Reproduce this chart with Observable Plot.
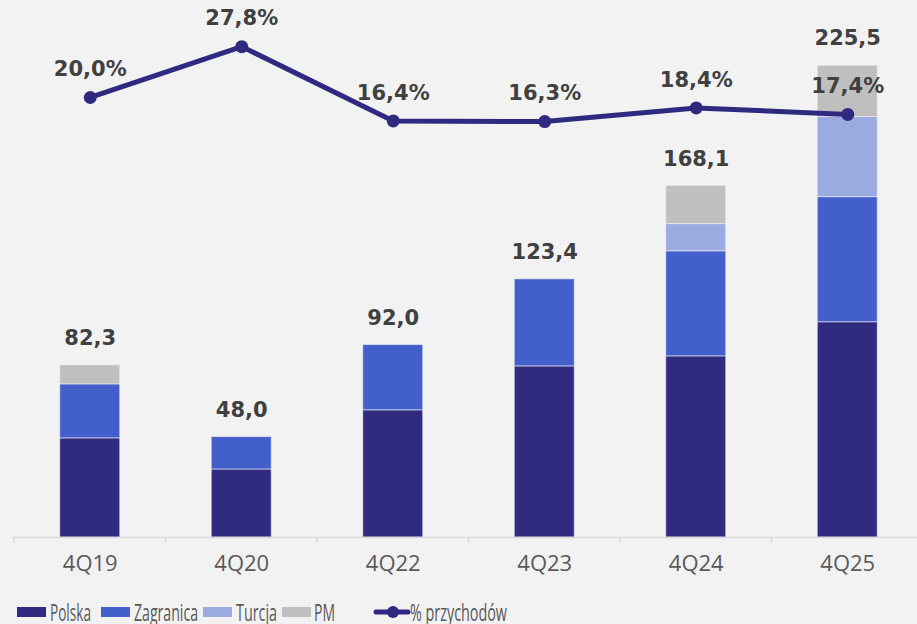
<!DOCTYPE html>
<html><head><meta charset="utf-8">
<script src="https://cdn.jsdelivr.net/npm/d3@7"></script>
<script src="https://cdn.jsdelivr.net/npm/@observablehq/plot@0.6"></script>
<style>
body{margin:0;background:#f2f2f2;width:917px;height:624px;overflow:hidden;position:relative}
#chart{position:absolute;left:0;top:0}
#legend{position:absolute;left:0;top:590px}
</style></head><body><div id="chart"></div><div id="legend"></div><script>
const categories = ["4Q19","4Q20","4Q22","4Q23","4Q24","4Q25"];
const polska = [47.4, 32.5, 60.8, 81.8, 86.6, 102.9];
const zagranica = [25.8, 15.5, 31.2, 41.6, 50.2, 59.8];
const turcja = [0, 0, 0, 0, 13.0, 38.3];
const pm = [9.1, 0, 0, 0, 18.3, 24.5];
const totals = [82.3, 48.0, 92.0, 123.4, 168.1, 225.5];
const pctRevenue = [20.0, 27.8, 16.4, 16.3, 18.4, 17.4];
const seriesNames = ["Polska", "Zagranica", "Turcja", "PM"];
const seriesColors = ["#302b80", "#435fcc", "#9baae0", "#bfbfbf"];
const lineName = "% przychodów";
const lineColor = "#2f2a7f";

const seriesArrays = [polska, zagranica, turcja, pm];
const rows = [];
categories.forEach((c, i) => {
  seriesArrays.forEach((arr, j) => {
    if (arr[i] > 0) rows.push({cat: c, series: seriesNames[j], value: arr[i]});
  });
});
// secondary axis for the percentage line (mapped into the bar scale)
const pctToY = d3.scaleLinear().domain([0, 30]).range([148.0, 241.5]);
const lineData = categories.map((c, i) => ({cat: c, pct: pctRevenue[i], y: pctToY(pctRevenue[i])}));
const totalData = categories.map((c, i) => ({cat: c, total: totals[i]}));
const fmt = v => d3.format(".1f")(v).replace(".", ",");

const labelStyle = {fontFamily: "DejaVu Sans", fontWeight: "bold", fontSize: 21, fill: "#404040"};

const plot = Plot.plot({
  width: 917, height: 590,
  marginLeft: 14, marginRight: -6, marginTop: 14, marginBottom: 53,
  style: {background: "#f2f2f2", fontFamily: "Open Sans"},
  x: {domain: categories, paddingInner: 0.604, paddingOuter: 0.302, round: false, axis: null, label: null},
  y: {domain: [0, 250], axis: null},
  color: {domain: seriesNames, range: seriesColors},
  marks: [
    Plot.barY(rows, {x: "cat", y: "value", fill: "series", stroke: "#f2f2f2", strokeOpacity: 0.6, strokeWidth: 1}),
    Plot.ruleY([0], {stroke: "#d9d9d9", strokeWidth: 1.5}),
    Plot.text(totalData, {x: "cat", y: "total", text: d => fmt(d.total), dy: -27, ...labelStyle}),
    Plot.line(lineData, {x: "cat", y: "y", stroke: lineColor, strokeWidth: 5}),
    Plot.dot(lineData, {x: "cat", y: "y", r: 6.5, fill: lineColor}),
    Plot.text(lineData, {x: "cat", y: "y", text: d => fmt(d.pct) + "%", dy: -28, ...labelStyle}),
    Plot.axisX({tickSize: 0, tickPadding: 18, fontSize: 22, fill: "#595959", fontFamily: "Open Sans", label: null})
  ]
});

// category boundary ticks below the axis line
const xs = plot.scale("x");
const half = (xs.step - xs.bandwidth) / 2;
const bounds = categories.map(c => xs.apply(c) - half);
bounds.push(xs.apply(categories[categories.length - 1]) + xs.bandwidth + half);
const y0 = plot.scale("y").apply(0);
d3.select(plot).append("g").selectAll("line").data(bounds).join("line")
  .attr("x1", d => d).attr("x2", d => d).attr("y1", y0).attr("y2", y0 + 6)
  .attr("stroke", "#d9d9d9").attr("stroke-width", 1.5);

document.getElementById("chart").append(plot);

// legend below the chart
const leg = d3.select("#legend").append("svg").attr("width", 917).attr("height", 34);
const items = [
  {name: seriesNames[0], color: seriesColors[0], sx: 17, tx: 50, tw: 41},
  {name: seriesNames[1], color: seriesColors[1], sx: 101, tx: 134, tw: 64},
  {name: seriesNames[2], color: seriesColors[2], sx: 203, tx: 236, tw: 41},
  {name: seriesNames[3], color: seriesColors[3], sx: 282, tx: 314, tw: 21}
];
const legFont = {family: "Open Sans", size: 24};
items.forEach(it => {
  leg.append("rect").attr("x", it.sx).attr("y", 17).attr("width", 29).attr("height", 10).attr("fill", it.color);
  leg.append("text").attr("x", it.tx).attr("y", 31).text(it.name)
    .attr("font-family", legFont.family).attr("font-size", legFont.size).attr("fill", "#595959")
    .attr("textLength", it.tw).attr("lengthAdjust", "spacingAndGlyphs");
});
leg.append("line").attr("x1", 376).attr("x2", 408).attr("y1", 22).attr("y2", 22)
  .attr("stroke", lineColor).attr("stroke-width", 5).attr("stroke-linecap", "round");
leg.append("circle").attr("cx", 393).attr("cy", 22).attr("r", 6).attr("fill", lineColor);
leg.append("text").attr("x", 410).attr("y", 31).text(lineName)
  .attr("font-family", legFont.family).attr("font-size", legFont.size).attr("fill", "#595959")
  .attr("textLength", 97).attr("lengthAdjust", "spacingAndGlyphs");
</script></body></html>
